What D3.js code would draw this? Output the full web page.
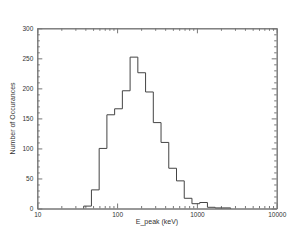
<!DOCTYPE html>
<html>
<head>
<meta charset="utf-8">
<script src="https://cdn.jsdelivr.net/npm/d3@7"></script>
<style>
  body { margin: 0; background: #fff; }
  svg text { font-family: "Liberation Sans", Arial, sans-serif; fill: #333; }
  .axis path, .axis line { stroke: #777; stroke-width: 1; }
</style>
</head>
<body>
<div class="canvas"></div>
<script>
const width = 300;
const height = 240;

// bin lower/upper edges in keV (log bins, ratio 1.25)
const binEdges = [38.15, 47.68, 59.60, 74.51, 93.13, 116.42, 145.52, 181.90, 227.37,
  284.22, 355.27, 444.09, 555.11, 693.89, 867.36, 1084.20, 1355.25, 1694.07, 2117.58, 2646.98];
const counts = [4, 31, 100, 156, 166, 196, 252, 226, 194, 143, 110, 67, 46, 17, 8, 10, 2, 1, 1];

const xMajor = [10, 100, 1000, 10000];
const yMajor = [0, 50, 100, 150, 200, 250, 300];
const xTitle = "E_peak (keV)";
const yTitle = "Number of Occurances";

const plotLeft = 37.3, plotRight = 276.7, plotTop = 28.3, plotBottom = 208.5;

// Create Scale Functions
const xScale = d3.scaleLog().domain([10, 10000]).range([plotLeft, plotRight]);
const yScale = d3.scaleLinear().domain([0, 300]).range([plotBottom, plotTop]);

const xMinor = xScale.ticks().filter(d => !xMajor.includes(d));
const yMinor = yScale.ticks(30).filter(d => !yMajor.includes(d));

const svg = d3
  .select(".canvas")
  .append("svg")
  .attr("width", width)
  .attr("height", height);

// Axes (IDL style, ticks pointing inward on all four sides)
function addAxis(axis, transform) {
  return svg
    .append("g")
    .attr("class", "axis")
    .attr("transform", transform)
    .call(axis);
}

addAxis(
  d3.axisBottom(xScale).tickValues(xMajor).tickSize(-5).tickSizeOuter(0)
    .tickPadding(4).tickFormat(d3.format("d")),
  `translate(0,${plotBottom})`);
addAxis(d3.axisBottom(xScale).tickValues(xMinor).tickSize(-2.5).tickSizeOuter(0).tickFormat(""),
  `translate(0,${plotBottom})`);
addAxis(d3.axisTop(xScale).tickValues(xMajor).tickSize(-5).tickSizeOuter(0).tickFormat(""),
  `translate(0,${plotTop})`);
addAxis(d3.axisTop(xScale).tickValues(xMinor).tickSize(-2.5).tickSizeOuter(0).tickFormat(""),
  `translate(0,${plotTop})`);

addAxis(
  d3.axisLeft(yScale).tickValues(yMajor).tickSize(-5).tickSizeOuter(0)
    .tickPadding(4).tickFormat(d3.format("d")),
  `translate(${plotLeft},0)`);
addAxis(d3.axisLeft(yScale).tickValues(yMinor).tickSize(-2.5).tickSizeOuter(0).tickFormat(""),
  `translate(${plotLeft},0)`);
addAxis(d3.axisRight(yScale).tickValues(yMajor).tickSize(-5).tickSizeOuter(0).tickFormat(""),
  `translate(${plotRight},0)`);
addAxis(d3.axisRight(yScale).tickValues(yMinor).tickSize(-2.5).tickSizeOuter(0).tickFormat(""),
  `translate(${plotRight},0)`);

svg.selectAll(".axis text").attr("font-size", 6.5).attr("font-family", null);

// Histogram step line
const pts = [[binEdges[0], 0]];
counts.forEach((c, i) => {
  pts.push([binEdges[i], c]);
  pts.push([binEdges[i + 1], c]);
});
pts.push([binEdges[binEdges.length - 1], 0]);

svg
  .append("path")
  .attr("d", d3.line().x(d => xScale(d[0])).y(d => yScale(d[1]))(pts))
  .attr("fill", "none")
  .attr("stroke", "#444")
  .attr("stroke-width", 1);

// Titles
svg
  .append("text")
  .attr("x", (plotLeft + plotRight) / 2)
  .attr("y", 224)
  .attr("text-anchor", "middle")
  .attr("font-size", 7)
  .text(xTitle);

svg
  .append("text")
  .attr("transform", `translate(15,${(plotTop + plotBottom) / 2}) rotate(-90)`)
  .attr("text-anchor", "middle")
  .attr("font-size", 7)
  .text(yTitle);
</script>
</body>
</html>
